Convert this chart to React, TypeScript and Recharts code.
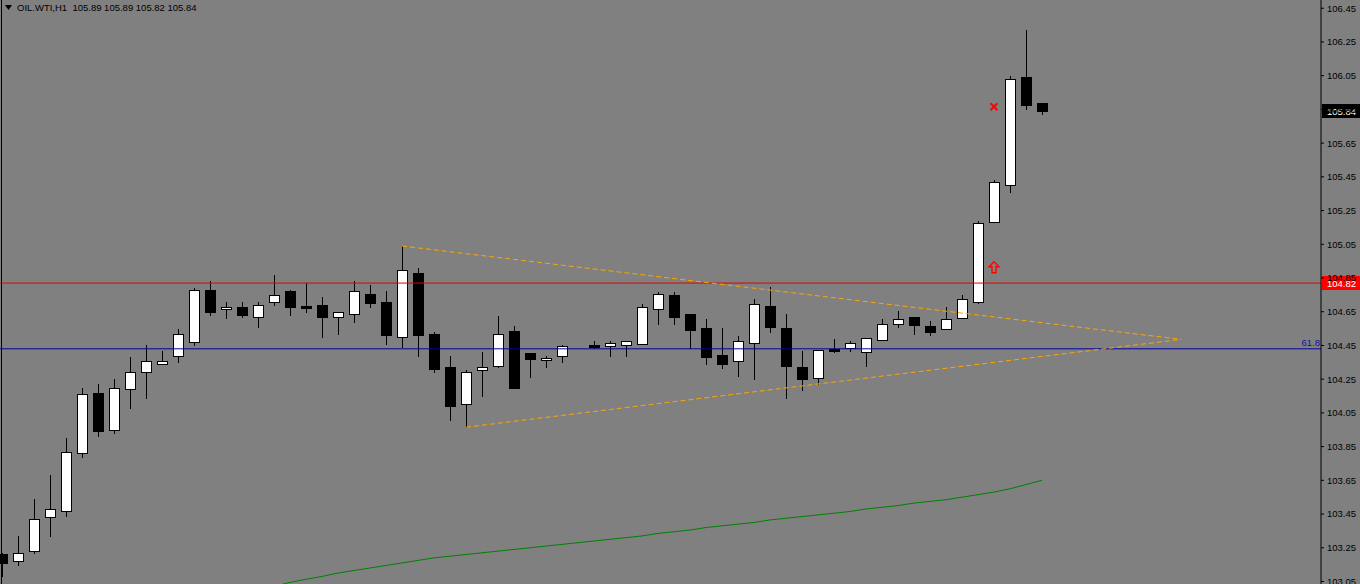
import React from 'react';
import { ComposedChart, Bar, Line, XAxis, YAxis, ReferenceLine, ReferenceDot } from 'recharts';

// Hourly candles (index 0..65)
const OPEN: (number | null)[] = [
  103.21, 103.17, 103.23, 103.43, 103.47, 103.81, 104.17, 103.95, 104.19, 104.29,
  104.34, 104.39, 104.47, 104.78, 104.665, 104.68, 104.62, 104.71, 104.77, 104.685,
  104.69, 104.62, 104.635, 104.755, 104.71, 104.50, 104.88, 104.52, 104.32, 104.10,
  104.303, 104.33, 104.536, 104.405, 104.362, 104.386, null, 104.453, 104.445, 104.451,
  104.461, 104.665, 104.748, 104.635, 104.552, 104.392, 104.356, 104.463, 104.683, 104.552,
  104.32, 104.259, 104.431, 104.433, 104.413, 104.484, 104.579, 104.617, 104.564, 104.546,
  104.615, 104.71, 105.184, 105.404, 106.04, 105.89,
];
const HIGH: (number | null)[] = [
  103.22, 103.32, 103.54, 103.68, 103.90, 104.20, 104.22, 104.25, 104.38, 104.45,
  104.42, 104.55, 104.79, 104.83, 104.71, 104.71, 104.71, 104.87, 104.78, 104.82,
  104.74, 104.65, 104.83, 104.81, 104.77, 105.04, 104.91, 104.53, 104.39, 104.305,
  104.41, 104.625, 104.565, 104.405, 104.388, 104.453, null, 104.477, 104.477, 104.475,
  104.696, 104.766, 104.766, 104.635, 104.605, 104.552, 104.505, 104.724, 104.795, 104.635,
  104.417, 104.422, 104.49, 104.477, 104.493, 104.607, 104.655, 104.617, 104.595, 104.677,
  104.748, 105.187, 105.43, 106.047, 106.32, 105.89,
];
const LOW: (number | null)[] = [
  103.08, 103.15, 103.22, 103.32, 103.44, 103.79, 103.91, 103.93, 104.08, 104.14,
  104.34, 104.35, 104.45, 104.63, 104.61, 104.62, 104.56, 104.69, 104.63, 104.65,
  104.50, 104.52, 104.59, 104.68, 104.46, 104.44, 104.39, 104.29, 104.01, 103.965,
  104.15, 104.32, 104.20, 104.26, 104.32, 104.354, null, 104.434, 104.388, 104.388,
  104.461, 104.58, 104.58, 104.434, 104.342, 104.318, 104.27, 104.253, 104.532, 104.14,
  104.188, 104.222, 104.413, 104.419, 104.33, 104.484, 104.561, 104.518, 104.514, 104.546,
  104.615, 104.70, 105.184, 105.362, 105.855, 105.82,
];
const CLOSE: (number | null)[] = [
  103.16, 103.22, 103.42, 103.48, 103.82, 104.16, 103.94, 104.20, 104.29, 104.36,
  104.36, 104.52, 104.78, 104.65, 104.68, 104.63, 104.69, 104.75, 104.68, 104.675,
  104.62, 104.65, 104.77, 104.70, 104.51, 104.90, 104.51, 104.31, 104.09, 104.29,
  104.32, 104.52, 104.20, 104.37, 104.376, 104.445, null, 104.443, 104.463, 104.475,
  104.677, 104.754, 104.62, 104.544, 104.383, 104.342, 104.475, 104.694, 104.561, 104.33,
  104.253, 104.422, 104.419, 104.463, 104.493, 104.576, 104.605, 104.573, 104.532, 104.605,
  104.724, 105.175, 105.418, 106.029, 105.878, 105.84,
];
// Moving average (green)
const MA: (number | null)[] = [
  null, null, null, null, null, null, null, null, null, null,
  null, null, null, null, null, 102.98, 103.0, 103.02, 103.045, 103.063,
  103.08, 103.10, 103.115, 103.13, 103.145, 103.16, 103.175, 103.19, 103.20, 103.21,
  103.22, 103.23, 103.24, 103.25, 103.26, 103.27, 103.28, 103.29, 103.30, 103.31,
  103.32, 103.335, 103.345, 103.355, 103.37, 103.38, 103.39, 103.40, 103.415, 103.425,
  103.435, 103.445, 103.455, 103.465, 103.48, 103.49, 103.50, 103.515, 103.525, 103.535,
  103.55, 103.565, 103.58, 103.60, 103.625, 103.65,
];

const PRICE_TICKS = [
  103.05, 103.25, 103.45, 103.65, 103.85, 104.05, 104.25, 104.45, 104.65, 104.85,
  105.05, 105.25, 105.45, 105.65, 105.85, 106.05, 106.25, 106.45,
];
const TREND_UPPER = [{ i: 25, p: 105.04 }, { i: 73.7, p: 104.486 }];
const TREND_LOWER = [{ i: 29, p: 103.965 }, { i: 73.7, p: 104.486 }];
const ASK_PRICE = 104.82;
const BID_PRICE = 105.84;
const FIBO_PRICE = 104.43;
const FIBO_LABEL = '61.8';
const CROSS_MARK = { i: 62, p: 105.866 };
const ARROW_MARK = { i: 62, p: 104.914 };
const TITLE = 'OIL.WTI,H1  105.89 105.89 105.82 105.84';

const rows = OPEN.map((o, i) => ({ i, o, h: HIGH[i], l: LOW[i], c: CLOSE[i], ma: MA[i] }));

const FONT = '"Liberation Sans", Arial, sans-serif';

const Candle = (props: any) => {
  const { x, y, width, height, payload } = props;
  if (!payload || payload.o == null) return null;
  const { o, h, l, c } = payload;
  const top = Math.min(y, y + height);
  const bot = Math.max(y, y + height);
  const span = h - l;
  const py = (p: number) => (span > 0 ? top + ((h - p) / span) * (bot - top) : top);
  const cx = Math.round(x + width / 2);
  const up = c >= o;
  const bt = Math.round(py(Math.max(o, c)));
  const bb = Math.round(py(Math.min(o, c)));
  return (
    <g>
      <line x1={cx + 0.5} x2={cx + 0.5} y1={Math.round(top)} y2={Math.round(bot) + 1} stroke="#000" strokeWidth={1} shapeRendering="crispEdges" />
      {bb - bt >= 1 ? (
        <rect x={cx - 5 + 0.5} y={bt + 0.5} width={10} height={bb - bt} fill={up ? '#fff' : '#000'} stroke="#000" strokeWidth={1} shapeRendering="crispEdges" />
      ) : (
        <line x1={cx - 5} x2={cx + 6} y1={bt + 0.5} y2={bt + 0.5} stroke="#000" strokeWidth={1} shapeRendering="crispEdges" />
      )}
    </g>
  );
};

const priceTag = (bg: string, fg: string, text: string) => (props: any) => {
  const vb = props.viewBox || {};
  const x = (vb.x || 0) + (vb.width || 0) + 1;
  const y = Math.round(vb.y || 0);
  return (
    <g>
      <rect x={x} y={y - 7} width={38} height={14} fill={bg} />
      <text x={x + 5} y={y + 3.5} fill={fg} fontSize={9.5} fontFamily={FONT}>{text}</text>
    </g>
  );
};

const fiboLabel = (props: any) => {
  const vb = props.viewBox || {};
  const x = (vb.x || 0) + (vb.width || 0) - 1;
  const y = vb.y || 0;
  return (
    <text x={x} y={y - 3} fill="#1010a0" fontSize={9.5} fontFamily={FONT} textAnchor="end">{FIBO_LABEL}</text>
  );
};

const Cross = (props: any) => {
  const { cx, cy } = props;
  return (
    <g stroke="#ff0000" strokeWidth={2}>
      <line x1={cx - 3.5} y1={cy - 3.5} x2={cx + 3.5} y2={cy + 3.5} />
      <line x1={cx - 3.5} y1={cy + 3.5} x2={cx + 3.5} y2={cy - 3.5} />
    </g>
  );
};

const UpArrow = (props: any) => {
  const { cx, cy } = props;
  const pts = [
    [0, -5.5], [5, -0.5], [2, -0.5], [2, 5.5], [-2, 5.5], [-2, -0.5], [-5, -0.5],
  ].map(([dx, dy]) => `${cx + dx},${cy + dy}`).join(' ');
  return <polygon points={pts} fill="none" stroke="#ff0000" strokeWidth={1.4} />;
};

export default function App() {
  return (
    <div style={{ position: 'absolute', left: 0, top: 0, width: 1360, height: 584, background: '#808080', overflow: 'hidden' }}>
      <ComposedChart
        width={1360}
        height={584}
        data={rows}
        margin={{ top: 0, right: 0, bottom: 0, left: 0 }}
      >
        <XAxis type="number" dataKey="i" domain={[-0.125, 82.4375]} hide allowDataOverflow />
        <YAxis
          orientation="right"
          type="number"
          width={39}
          domain={[103.035, 106.499]}
          allowDataOverflow
          ticks={PRICE_TICKS}
          interval={0}
          tickFormatter={(v: number) => v.toFixed(2)}
          tickSize={3}
          tickMargin={3}
          axisLine={{ stroke: '#000', strokeWidth: 1 }}
          tickLine={{ stroke: '#000' }}
          tick={{ fill: '#000', fontSize: 9.5, fontFamily: FONT }}
        />
        <Line dataKey="ma" stroke="#008000" strokeWidth={1} dot={false} isAnimationActive={false} type="linear" connectNulls={false} />
        <ReferenceLine y={FIBO_PRICE} stroke="#0000a0" strokeWidth={1} label={fiboLabel} />
        <ReferenceLine y={ASK_PRICE} stroke="#e00000" strokeWidth={1} label={priceTag('#ff0000', '#ffffff', ASK_PRICE.toFixed(2))} />
        <ReferenceLine
          segment={[{ x: TREND_UPPER[0].i, y: TREND_UPPER[0].p }, { x: TREND_UPPER[1].i, y: TREND_UPPER[1].p }]}
          stroke="#ffa500" strokeWidth={1} strokeDasharray="5 3" ifOverflow="visible"
        />
        <ReferenceLine
          segment={[{ x: TREND_LOWER[0].i, y: TREND_LOWER[0].p }, { x: TREND_LOWER[1].i, y: TREND_LOWER[1].p }]}
          stroke="#ffa500" strokeWidth={1} strokeDasharray="5 3" ifOverflow="visible"
        />
        <Bar
          dataKey={(d: any) => (d.o == null ? null : [d.l, d.h])}
          barSize={11}
          shape={Candle}
          isAnimationActive={false}
        />
        <ReferenceDot x={CROSS_MARK.i} y={CROSS_MARK.p} r={4} shape={Cross} />
        <ReferenceDot x={ARROW_MARK.i} y={ARROW_MARK.p} r={6} shape={UpArrow} />
        <ReferenceLine y={BID_PRICE} stroke="none" strokeOpacity={0} label={priceTag('#000000', '#ffffff', BID_PRICE.toFixed(2))} />
      </ComposedChart>
      <div style={{ position: 'absolute', left: 1, top: 0, width: 1, height: 584, background: '#000' }} />
      <div style={{ position: 'absolute', left: 5, top: 0, height: 14, display: 'flex', alignItems: 'center', fontFamily: FONT, fontSize: 9.5, color: '#000', whiteSpace: 'pre' }}>
        <svg width={7} height={5} style={{ marginRight: 5 }}>
          <polygon points="0,0 7,0 3.5,5" fill="#000" />
        </svg>
        <span>{TITLE}</span>
      </div>
    </div>
  );
}
